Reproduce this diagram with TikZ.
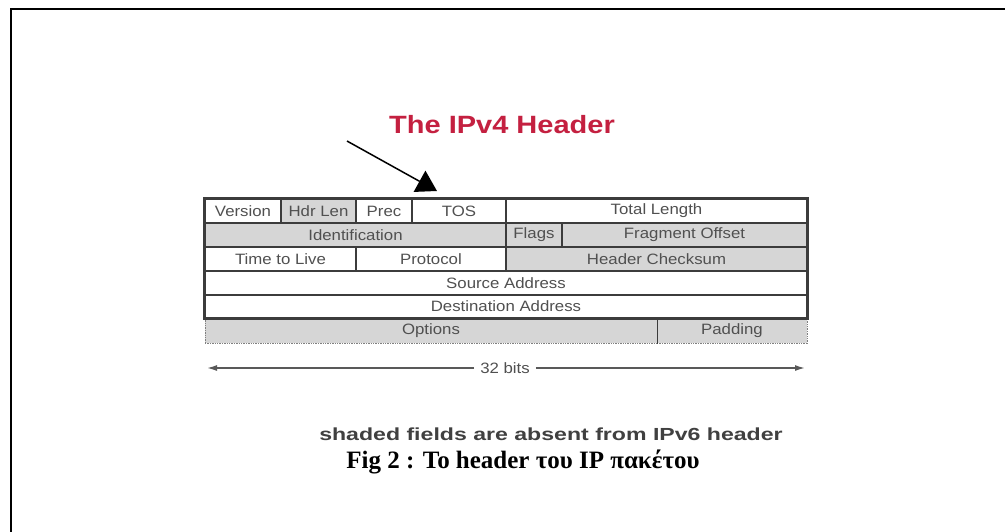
\documentclass[tikz,border=0pt]{standalone}
\usepackage{fontspec}
\setmainfont{Liberation Serif}
\newfontfamily\tblfont[FakeStretch=1.12]{Liberation Sans}
\newfontfamily\titlefont[FakeStretch=1.16]{Liberation Sans}
\newfontfamily\notefont[FakeStretch=1.32]{Liberation Sans}
\newfontfamily\capfont{Liberation Serif}
\usetikzlibrary{arrows.meta}
\definecolor{titlered}{RGB}{196,32,64}
\definecolor{cellline}{RGB}{60,60,60}
\definecolor{celltext}{RGB}{80,80,80}
\definecolor{shade}{RGB}{214,214,214}
\tikzset{
  field/.style={draw=cellline, line width=1.4pt, inner sep=0pt, anchor=center,
    font=\tblfont\fontsize{15}{16}\selectfont, text=celltext},
  shaded/.style={field, fill=shade},
  optfield/.style={field, fill=shade, draw=black!50, densely dotted, line width=1pt},
  row1/.style={minimum height=24pt},
  row6/.style={minimum height=25pt},
}
\begin{document}
\begin{tikzpicture}[x=1pt,y=-1pt]
\useasboundingbox (0,0) rectangle (1005,531);
\clip (0,0) rectangle (1005,531);
\fill[white] (0,0) rectangle (1005,531);

% page frame (left and top edges)
\draw[line width=2pt] (11,540) -- (11,9) -- (1015,9);

% title
\node[font=\titlefont\bfseries\fontsize{25}{28}\selectfont, text=titlered, anchor=base]
  (title) at (502,133) {The IPv4 Header};

% pointer arrow
\coordinate (ptrtail) at (347,141);
\coordinate (ptrtip) at (437,191);
\draw[line width=1.5pt, -{Triangle[length=20pt,width=24pt]}] (ptrtail) -- (ptrtip);

% row 1
\node[field, row1, minimum width=76pt]  (ver)  at (243,211)   {Version};
\node[shaded, row1, minimum width=75pt] (hlen) at (318.5,211) {Hdr Len};
\node[field, row1, minimum width=56pt]  (prec) at (384,211)   {Prec};
\node[field, row1, minimum width=94pt]  (tos)  at (459,211)   {TOS};
\node[field, row1, minimum width=301pt] (tlen) at (656.5,211) {Total Length};
% row 2
\node[shaded, row1, minimum width=301pt] (ident) at (355.5,235) {Identification};
\node[shaded, row1, minimum width=56pt]  (flags) at (534,235)   {Flags};
\node[shaded, row1, minimum width=245pt] (frag)  at (684.5,235) {Fragment Offset};
% row 3
\node[field, row1, minimum width=151pt]  (ttl)   at (280.5,259) {Time to Live};
\node[field, row1, minimum width=150pt]  (proto) at (431,259)   {Protocol};
\node[shaded, row1, minimum width=301pt] (hcs)   at (656.5,259) {Header Checksum};
% rows 4 and 5
\node[field, row1, minimum width=602pt] (src) at (506,283)   {Source Address};
\node[field, minimum height=23pt, minimum width=602pt] (dst) at (506,306.5) {Destination Address};
% row 6
\node[optfield, row6, minimum width=452pt] (opts) at (431,330.5) {Options};
\node[optfield, row6, minimum width=150pt] (pad)  at (732,330.5) {Padding};
\draw[cellline, line width=1pt] (opts.north east) -- (opts.south east);

% outer border of the fixed header
\draw[cellline, line width=2pt] (ver.north west) rectangle (dst.south east);

% width scale
\node[font=\tblfont\fontsize{15}{16}\selectfont, text=celltext, inner sep=0pt]
  (bits) at (505,368) {32 bits};
\coordinate (bitsL) at (207,368);
\coordinate (bitsR) at (805,368);
\draw[black!65, line width=1.5pt, -{Latex[length=10pt,width=6pt]}]
  ([xshift=-6pt]bits.west) -- (bitsL);
\draw[black!65, line width=1.5pt, -{Latex[length=10pt,width=6pt]}]
  ([xshift=6pt]bits.east) -- (bitsR);

% note and caption
\node[font=\notefont\bfseries\fontsize{17.5}{19}\selectfont, text=black!75, anchor=base]
  (note) at (551,440) {shaded fields are absent from IPv6 header};
\node[font=\capfont\bfseries\fontsize{25}{27}\selectfont, anchor=base]
  (caption) at (523,468) {Fig 2 : Το header του IP πακέτου};
\end{tikzpicture}
\end{document}
